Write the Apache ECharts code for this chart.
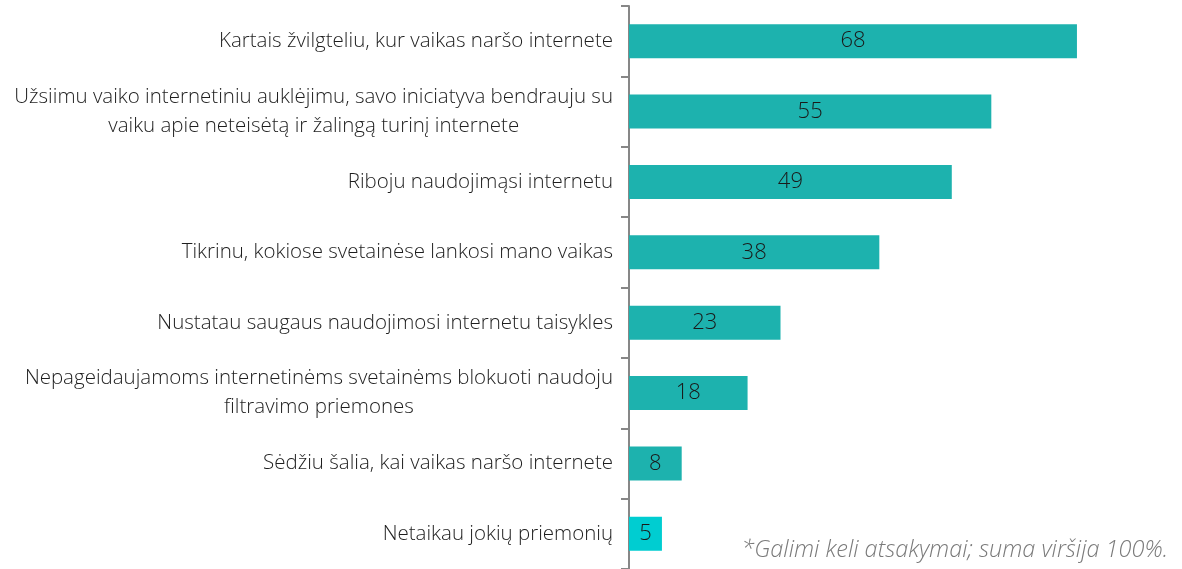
<!DOCTYPE html>
<html>
<head>
<meta charset="utf-8">
<script src="https://cdn.jsdelivr.net/npm/echarts@6/dist/echarts.min.js"></script>
<style>
  html, body { margin: 0; padding: 0; background: #fff; }
  #chart { width: 1182px; height: 569px; }
</style>
</head>
<body>
<div id="chart"></div>
<script>
// duomenys
var categories = [
  'Kartais žvilgteliu, kur vaikas naršo internete',
  'Užsiimu vaiko internetiniu auklėjimu, savo iniciatyva bendrauju su\nvaiku apie neteisėtą ir žalingą turinį internete',
  'Riboju naudojimąsi internetu',
  'Tikrinu, kokiose svetainėse lankosi mano vaikas',
  'Nustatau saugaus naudojimosi internetu taisykles',
  'Nepageidaujamoms internetinėms svetainėms blokuoti naudoju\nfiltravimo priemones',
  'Sėdžiu šalia, kai vaikas naršo internete',
  'Netaikau jokių priemonių'
];
var values = [68, 55, 49, 38, 23, 18, 8, 5];
var footnote = '*Galimi keli atsakymai; suma viršija 100%.';

var barColor = '#1DB2AE';
var noneColor = '#00CDD1';

var myChart = echarts.init(document.getElementById('chart'));

var data = values.map(function (v, i) {
  return {
    value: v,
    itemStyle: { color: i === values.length - 1 ? noneColor : barColor }
  };
});

var option = {
  animation: false,
  grid: { left: 629, top: 6, width: 527, bottom: -4, containLabel: false },
  xAxis: {
    type: 'value',
    min: 0,
    max: 80,
    show: false,
    splitLine: { show: false }
  },
  yAxis: {
    type: 'category',
    inverse: true,
    data: categories,
    axisLine: { show: true, lineStyle: { color: '#878787', width: 2 } },
    axisTick: { show: true, length: 8, lineStyle: { color: '#878787', width: 2 } },
    axisLabel: {
      margin: 16,
      fontFamily: 'Open Sans',
      fontSize: 20.5,
      fontWeight: 300,
      color: '#1e1e1e',
      lineHeight: 29,
      // kelių eilučių etiketės centruojamos
      formatter: function (val) {
        return val.split('\n').map(function (l) { return '{c|' + l + '}'; }).join('\n');
      },
      rich: {
        c: { align: 'center', fontFamily: 'Open Sans', fontSize: 20.5, fontWeight: 300, color: '#1e1e1e', lineHeight: 29 }
      }
    }
  },
  series: [
    {
      type: 'bar',
      data: data,
      barWidth: 34,
      label: {
        show: true,
        position: 'inside',
        fontFamily: 'Open Sans',
        fontSize: 22,
        fontWeight: 300,
        color: '#1a1a1a'
      }
    }
  ],
  graphic: [
    {
      type: 'text',
      right: 14,
      top: 539,
      style: {
        text: footnote,
        fontFamily: 'Open Sans',
        fontStyle: 'italic',
        fontWeight: 300,
        fontSize: 23.5,
        fill: '#7a7a7a'
      }
    }
  ]
};

myChart.setOption(option);
</script>
</body>
</html>
